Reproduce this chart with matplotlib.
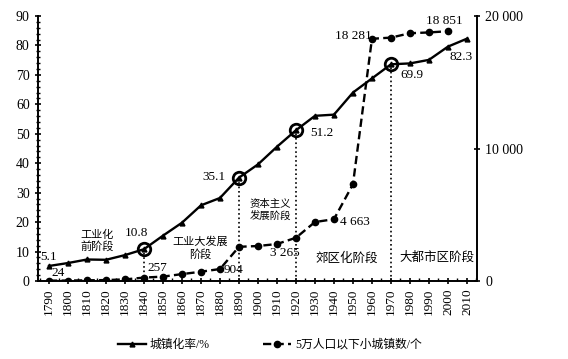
import matplotlib
matplotlib.use('Agg')
import matplotlib.pyplot as plt
from matplotlib.ticker import MultipleLocator, FixedLocator

plt.rcParams['font.family'] = ['Liberation Serif', 'Noto Sans CJK SC']
plt.rcParams['axes.unicode_minus'] = False

# 城镇化率 (%)
years = list(range(1790, 2011, 10))
urban = [5.1, 6.1, 7.3, 7.2, 8.8, 10.8, 15.4, 19.8, 25.7, 28.2, 35.1, 39.6,
         45.6, 51.2, 56.1, 56.5, 64.0, 68.8, 73.6, 73.9, 75.1, 79.6, 82.3]
# 5万人口以下小城镇数 (个)
town_years = list(range(1790, 2001, 10))
towns = [24, 35, 50, 70, 120, 257, 330, 520, 700, 904, 2580, 2640, 2790,
         3265, 4450, 4663, 7300, 18281, 18370, 18700, 18760, 18851]
# 阶段分界
key_years = [1840, 1890, 1920, 1970]
key_rate = [urban[years.index(y)] for y in key_years]
stages = ['工业化\n前阶段', '工业大发展\n阶段', '资本主义\n发展阶段', '郊区化阶段', '大都市区阶段']

fig = plt.figure(figsize=(5.68, 3.59), dpi=100)
ax = fig.add_axes([0.0669, 0.2173, 0.7729, 0.7381])
ax2 = ax.twinx()

l1, = ax.plot(years, urban, color='black', lw=1.7, marker='^', ms=3.5,
              label='城镇化率/%', zorder=4)
l2, = ax2.plot(town_years, towns, color='black', lw=1.7, ls=(0, (3.5, 1.8)),
               marker='o', ms=4.5, label='5万人口以下小城镇数/个', zorder=3)
ax.plot(key_years, key_rate, ls='none', marker='o', ms=9, mfc='none',
        mec='black', mew=2, zorder=5)
for x, v in zip(key_years, key_rate):
    ax.plot([x, x], [0, v], color='black', ls=':', lw=1.2, zorder=2)

ax.set_xlim(1784.2, 2015.3)
ax.set_ylim(0, 90)
ax2.set_ylim(0, 20000)

ax.xaxis.set_major_locator(FixedLocator(years))
ax.xaxis.set_minor_locator(MultipleLocator(5))
ax.set_xticklabels([str(y) for y in years], rotation=90, fontsize=9.5)
ax.yaxis.set_major_locator(MultipleLocator(10))
ax.yaxis.set_minor_locator(MultipleLocator(2))
ax.tick_params(axis='y', labelsize=10, direction='inout', length=5, width=1.2)
ax.tick_params(axis='y', which='minor', direction='inout', length=3, width=1)
ax.tick_params(axis='x', direction='inout', length=5, width=1.2, pad=3)
ax.tick_params(axis='x', which='minor', direction='in', length=2.5, width=1)

ax2.set_yticks([0, 10000, 20000])
ax2.set_yticklabels(['0', '10 000', '20 000'])
ax2.tick_params(axis='y', labelsize=10, direction='inout', length=5, width=1.2)

for a in (ax, ax2):
    a.spines['top'].set_visible(False)
    for s in a.spines.values():
        s.set_linewidth(1.4)
ax2.spines['left'].set_visible(False)
ax2.spines['bottom'].set_visible(False)
ax.spines['right'].set_visible(False)

num = dict(fontsize=9.5, color='black', zorder=6)
ax.text(1790, 8.0, '5.1', ha='center', va='center', **num)
ax.text(1794.7, 2.7, '24', ha='center', va='center', **num)
ax.text(1836, 16.4, '10.8', ha='center', va='center', **num)
ax.text(1847, 4.4, '257', ha='center', va='center', **num)
ax.text(1877, 35.4, '35.1', ha='center', va='center', **num)
ax.text(1887, 3.7, '904', ha='center', va='center', **num)
ax.text(1933.5, 50.2, '51.2', ha='center', va='center', **num)
ax.text(1914, 9.4, '3 265', ha='center', va='center', **num)
ax.text(1951, 20.1, '4 663', ha='center', va='center', **num)
ax.text(1950, 83.3, '18 281', ha='center', va='center', **num)
ax.text(1998, 88.4, '18 851', ha='center', va='center', **num)
ax.text(1981, 70.0, '69.9', ha='center', va='center', **num)
ax.text(2007, 76.2, '82.3', ha='center', va='center', **num)

cjk = dict(family=['Noto Sans CJK SC'], ha='center', va='center',
           linespacing=1.15, zorder=6)
ax.text(1815.3, 13.6, stages[0], fontsize=8, **cjk)
ax.text(1869.5, 11.2, stages[1], fontsize=8, **cjk)
ax.text(1906.3, 24.1, stages[2], fontsize=7.5, **cjk)
ax.text(1946.7, 7.7, stages[3], fontsize=9, **cjk)
ax.text(1994, 7.9, stages[4], fontsize=9, **cjk)

fig.legend(handles=[l1, l2], loc='center', bbox_to_anchor=(0.475, 0.04),
           ncol=2, frameon=False, fontsize=8.5, handlelength=2.4,
           handletextpad=0.3, columnspacing=4.5)

fig.savefig('out.png', dpi=100)
